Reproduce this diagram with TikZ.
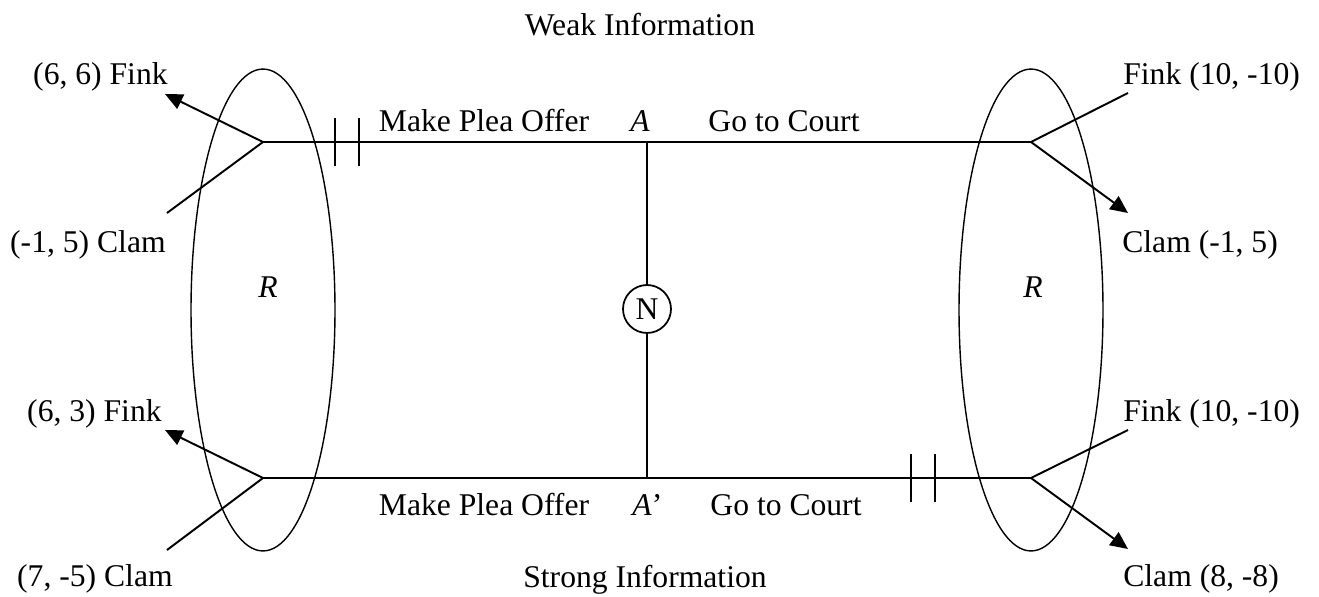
\documentclass[tikz,border=0pt]{standalone}
\usepackage{fontspec}
\setmainfont{Liberation Serif}
\usetikzlibrary{positioning,shapes.geometric,arrows.meta}

\tikzset{
  move/.style={line width=1.1pt},
  pay/.style={-{Triangle[length=10pt,width=9pt]}, line width=1.1pt},
  infoset/.style={ellipse, draw, line width=0.8pt, minimum width=2.88cm, minimum height=9.64cm, inner sep=0pt},
  nature/.style={circle, draw, line width=1pt, minimum size=0.96cm, inner sep=0pt},
  lbl/.style={anchor=base, inner sep=0pt},
}

\begin{document}
\begin{tikzpicture}[x=0.02cm,y=-0.02cm,font=\fontsize{18}{21}\selectfont]
  \useasboundingbox (0,0) rectangle (1319,597);
  % information sets
  \node[infoset] (setl) at (263,310) {};
  \node[infoset] (setr) at (1031,310) {};
  \node[lbl] (rl) at (268,298) {\textit{R}};
  \node[lbl] (rr) at (1033,298) {\textit{R}};
  % decision points
  \coordinate (wl) at (263,142);
  \coordinate (wr) at (1031,142);
  \coordinate (sl) at (263,478);
  \coordinate (sr) at (1031,478);
  \coordinate (a) at (647,142);
  \coordinate (a2) at (647,478);
  \node[nature] (n) at (647,309) {N};
  % payoff ends
  \coordinate (wlf) at (165,94);
  \coordinate (wlc) at (167,213);
  \coordinate (wrf) at (1128,93);
  \coordinate (wrc) at (1128,213);
  \coordinate (slf) at (165,430);
  \coordinate (slc) at (167,550);
  \coordinate (srf) at (1128,430);
  \coordinate (src) at (1128,549);
  \path[move]
    (wl) edge (wr)
    (sl) edge (sr)
    (a) edge (n)
    (n) edge (a2)
    (wl) edge (wlc)
    (wr) edge (wrf)
    (sl) edge (slc)
    (sr) edge (srf);
  \path[pay]
    (wl) edge (wlf)
    (wr) edge (wrc)
    (sl) edge (slf)
    (sr) edge (src);
  % pruned branches
  \draw[move] (335,118) -- (335,166) (359,118) -- (359,166);
  \draw[move] (911,454) -- (911,502) (935,454) -- (935,502);
  % labels
  \node[lbl] (weak) at (640,36) {Weak Information};
  \node[lbl] (strong) at (645,588) {Strong Information};
  \node[lbl] (offw) at (484,132) {Make Plea Offer};
  \node[lbl] (aw) at (640,132) {\textit{A}};
  \node[lbl] (courtw) at (784,132) {Go to Court};
  \node[lbl] (offs) at (484,516) {Make Plea Offer};
  \node[lbl, anchor=base west] (as) at (632,516) {\textit{A}’};
  \node[lbl] (courts) at (786,516) {Go to Court};
  \node[lbl, anchor=base east] (pwlf) at (168,85) {(6, 6) Fink};
  \node[lbl, anchor=base east] (pwlc) at (166,253) {(-1, 5) Clam};
  \node[lbl, anchor=base east] (pslf) at (162,422) {(6, 3) Fink};
  \node[lbl, anchor=base east] (pslc) at (173,587) {(7, -5) Clam};
  \node[lbl, anchor=base west] (pwrf) at (1123,85) {Fink (10, -10)};
  \node[lbl, anchor=base west] (pwrc) at (1122,253) {Clam (-1, 5)};
  \node[lbl, anchor=base west] (psrf) at (1123,422) {Fink (10, -10)};
  \node[lbl, anchor=base west] (psrc) at (1123,587) {Clam (8, -8)};
\end{tikzpicture}
\end{document}
